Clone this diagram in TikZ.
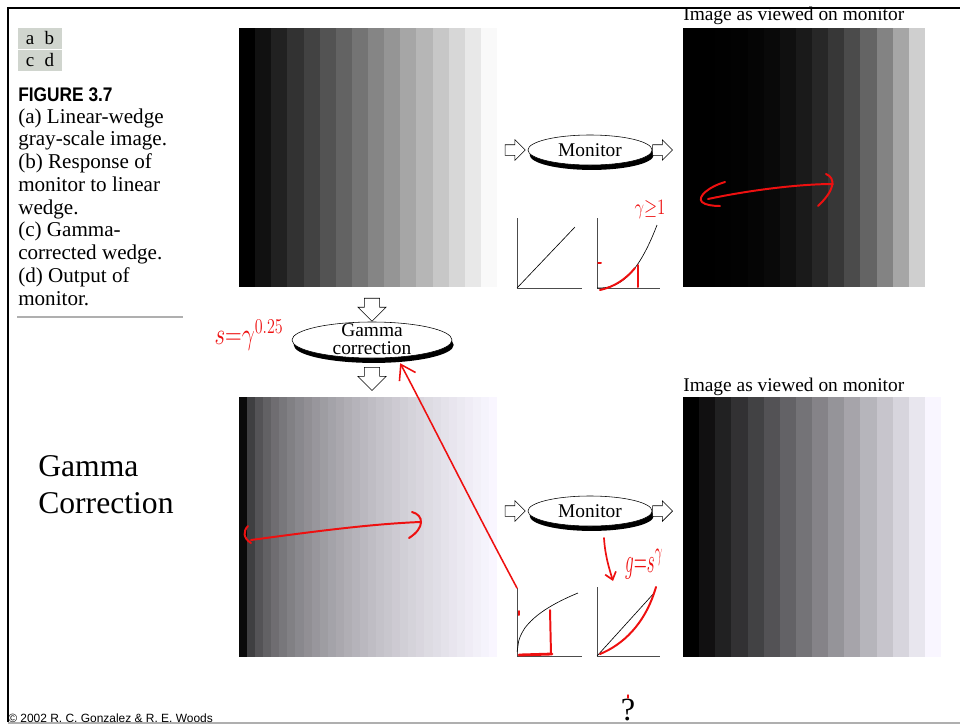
\documentclass[tikz,border=0pt]{standalone}
\usepackage{fontspec}
\setmainfont{Liberation Serif}
\newfontfamily\arialfont{Liberation Sans}
\newfontfamily\figfont[FakeStretch=0.88]{Liberation Sans}
\usepackage{xcolor}
\usepackage{tikz}
\usetikzlibrary{shapes.geometric, shapes.arrows, arrows.meta, positioning, shadows}
\definecolor{tagfill}{RGB}{208, 213, 206}
\definecolor{rulegray}{RGB}{175, 175, 175}
\definecolor{penred}{RGB}{238, 16, 16}

\begin{document}
\begin{tikzpicture}[
  x=0.025cm, y=-0.025cm,
  every node/.style={inner sep=0pt},
  captext/.style={font=\fontsize{15}{16}\selectfont, anchor=base west},
  tag/.style={fill=tagfill, minimum width=1.1cm, minimum height=0.525cm, font=\fontsize{13.5}{14}\selectfont},
  viewlabel/.style={font=\fontsize{13.8}{14}\selectfont, anchor=base west},
  lens/.style={ellipse, draw, thin, fill=white, drop shadow={shadow xshift=1.2pt, shadow yshift=-3.5pt, fill=black, opacity=1}, font=\fontsize{13.8}{12.8}\selectfont},
  hollow/.style={single arrow, draw, thin, fill=white, inner sep=0.125cm, minimum height=0.5cm, single arrow head extend=0.125cm},
  hollowdown/.style={hollow, shape border rotate=270, inner sep=0.185cm, minimum height=0.52cm, single arrow head extend=0.16cm},
  wedgebox/.style={anchor=north west, minimum width=6.45cm, minimum height=6.475cm},
  axis/.style={draw=black!70, line width=0.7pt},
  curve/.style={line width=0.45pt},
  pen/.style={draw=penred, line width=1.4pt, line cap=round, line join=round},
  pentext/.style={text=penred},
]
  \useasboundingbox (0,0) rectangle (960,725);
  \draw[line width=2.1pt] (8,722) -- (8,8) -- (960,8);
  \draw[rulegray, line width=0.8pt] (8,723) -- (960,723);

  % caption
  \node[tag] (tagab) at (40,38) {a\hspace{0.55em}b};
  \node[tag] (tagcd) at (40,60.5) {c\hspace{0.55em}d};
  \node[anchor=base west, font=\figfont\bfseries\fontsize{14}{14}\selectfont] (fig) at (18,101) {FIGURE 3.7};
  \foreach \t [count=\k] in {{(a) Linear-wedge}, {gray-scale image.}, {(b) Response of}, {monitor to linear}, {wedge.}, {(c) Gamma-}, {corrected wedge.}, {(d) Output of}, {monitor.}}
    \node[captext] (cap\k) at (18,{123+(\k-1)*22.75}) {\t};
  \draw[rulegray, line width=1.4pt] (17,317) -- (183,317);

  % wedges
  \foreach \i in {0,...,15}{
    \pgfmathsetmacro\v{0.975*\i/15}
    \definecolor{band}{gray}{\v}
    \fill[band] ({239+\i*16.125},28) rectangle ++(16.6,259);
    \pgfmathsetmacro\v{(max(\i,0.01)/15)^3}
    \definecolor{band}{gray}{\v}
    \fill[band] ({683+\i*16.125},28) rectangle ++(16.6,259);
    \pgfmathsetmacro\v{\i/15}
    \pgfmathsetmacro\u{0.975*\v}
    \pgfmathsetmacro\w{0.965*\v}
    \definecolor{band}{rgb}{\u,\w,\v}
    \fill[band] ({683+\i*16.125},397) rectangle ++(16.6,260);
  }
  \foreach \i in {0,...,31}{
    \pgfmathsetmacro\v{(max(\i,0.01)/31)^0.4}
    \pgfmathsetmacro\u{0.975*\v}
    \pgfmathsetmacro\w{0.965*\v}
    \definecolor{band}{rgb}{\u,\w,\v}
    \fill[band] ({239+\i*8.0625},397) rectangle ++(8.5,260);
  }
  \node[wedgebox] (wa) at (239,28) {};
  \node[wedgebox] (wb) at (683,28) {};
  \node[wedgebox] (wc) at (239,397) {};
  \node[wedgebox] (wd) at (683,397) {};
  \node[viewlabel] (vb) at (683,20) {Image as viewed on monitor};
  \node[viewlabel] (vd) at (683,391) {Image as viewed on monitor};

  % monitors and correction
  \node[lens, minimum width=3.1cm, minimum height=0.75cm] (mon1) at (590,150) {Monitor};
  \node[hollow, left=1.5pt of mon1] (in1) {};
  \node[hollow, right=0pt of mon1] (out1) {};
  \node[lens, minimum width=3.1cm, minimum height=0.75cm] (mon2) at (590,511) {Monitor};
  \node[hollow, left=1.5pt of mon2] (in2) {};
  \node[hollow, right=0pt of mon2] (out2) {};
  \node[lens, minimum width=4cm, minimum height=0.9cm] (gamma) at (372,340) {};
  \node[align=center, font=\fontsize{13.8}{12.8}\selectfont] (gammatext) at (372,339) {Gamma\\correction};
  \node[hollowdown, above=0pt of gamma] (gin) {};
  \node[hollowdown, below=0.22cm of gamma] (gout) {};

  % transfer curves
  \coordinate (g1) at (517,288);
  \coordinate (g2) at (597,288);
  \coordinate (g3) at (517,656);
  \coordinate (g4) at (597,656);
  \coordinate (g3top) at (517,588);
  \draw[axis] (517,218) |- (582,288);
  \draw[axis] (597,218) |- (660,288);
  \draw[axis] (g3top) |- (582,656);
  \draw[axis] (597,587) |- (660,656);
  \draw[curve] (g1) -- (575,227);
  \draw[curve, shift={(g2)}] plot[domain=0.001:1, samples=40] ({60*\x},{-63*(\x)^2.5});
  \draw[curve, shift={(g3)}] plot[domain=0.001:1, samples=40] ({61*\x},{-63*(\x)^0.4});
  \draw[curve] (g4) -- (655,592);

  % big title and credits
  \node[anchor=base west, font=\fontsize{22.5}{27}\selectfont] (title1) at (38,476) {Gamma};
  \node[anchor=base west, font=\fontsize{22.5}{27}\selectfont] (title2) at (38,513) {Correction};
  \node[anchor=base west, font=\arialfont\fontsize{8.5}{9}\selectfont] (credit) at (8,722) {\textcopyright{} 2002 R. C. Gonzalez \& R. E. Woods};
  \node[anchor=base, font=\fontsize{23}{23}\selectfont] (qmark) at (628,720) {?};

  % red pen notes
  \node[pentext, font=\fontsize{12}{12}\selectfont] (gtag) at (650,210) {\scalebox{1}[1.3]{$\gamma{\geq}1$}};
  \node[pentext, font=\fontsize{18}{18}\selectfont] (stag) at (249,335) {\scalebox{0.95}[1.25]{$s{=}\gamma^{0.25}$}};
  \node[pentext, font=\fontsize{15}{15}\selectfont] (gs) at (644,564) {\scalebox{0.85}[1.7]{$g{=}s^{\gamma}$}};
  \draw[pen] (600,290) .. controls (614,287) and (626,279) .. (635,268);
  \draw[pen] (638,265) -- (638,287);
  \draw[pen] (598,263) -- (601,263);
  \draw[pen] (708,199) .. controls (750,190) and (800,184) .. (833,184);
  \draw[pen] (725,182) .. controls (708,187) and (697,197) .. (702,202) .. controls (705,205) and (713,206) .. (720,206);
  \draw[pen] (826,174) .. controls (836,178) and (835,190) .. (818,206);
  \draw[pen] (251,540) .. controls (310,532) and (370,524) .. (420,522);
  \draw[pen] (248,526) .. controls (243,531) and (243,538) .. (251,543);
  \draw[pen] (412,512) .. controls (424,515) and (425,528) .. (409,538);
  \draw[pen, line width=1.1pt, -{Straight Barb[length=10pt, width=13pt]}] (g3top) .. controls (470,500) and (420,400) .. ([xshift=20pt, yshift=-3.5pt]gamma.south);
  \draw[pen] (550,610) -- (551,654);
  \draw[pen, line width=2pt] (519,655) -- (552,654);
  \draw[pen] (519,611) -- (519,615);
  \draw[pen] (600,654) .. controls (622,645) and (645,625) .. (656,587);
  \draw[pen, line width=1.2pt, -{Straight Barb[length=5pt, width=8pt]}] (604,538) .. controls (605,555) and (609,568) .. (613,581);
  \draw[pen, line width=1pt] (628,695) -- (628,698);
\end{tikzpicture}
\end{document}
